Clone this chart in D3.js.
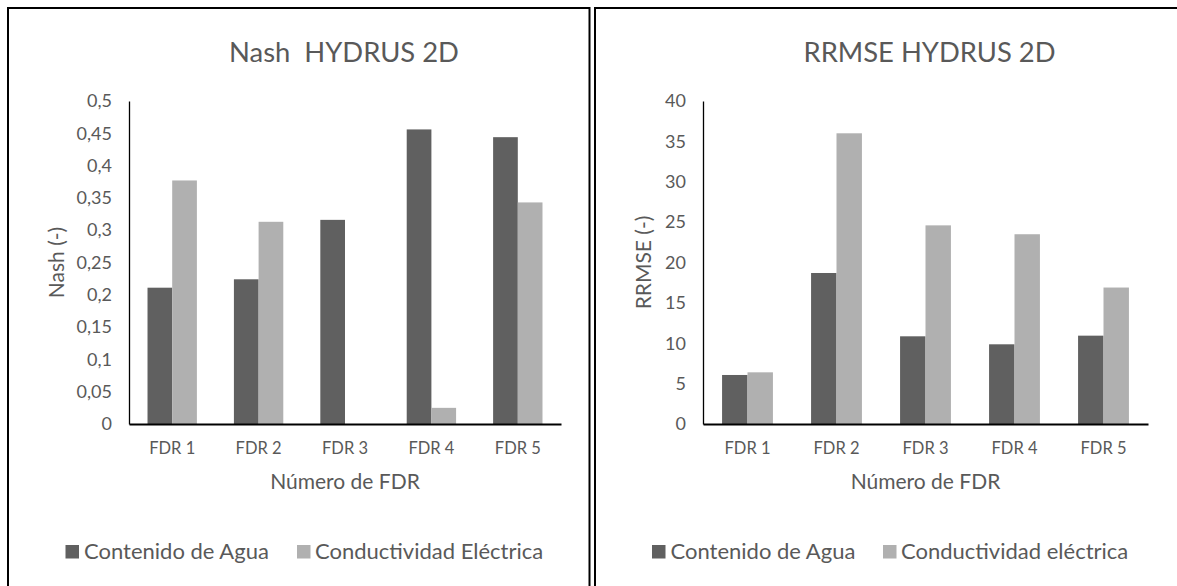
<!DOCTYPE html>
<html>
<head>
<meta charset="utf-8">
<script src="https://cdn.jsdelivr.net/npm/d3@7"></script>
<style>
  body { margin: 0; background: #fff; }
  svg { display: block; }
  text { font-family: Lato, "Open Sans", sans-serif; fill: #595959; }
</style>
</head>
<body>
<div id="chart"></div>
<script>
// categories and series values
const categories = ["FDR 1", "FDR 2", "FDR 3", "FDR 4", "FDR 5"];
const seriesNames = ["Contenido de Agua", "Conductividad"];

const nashAgua = [0.211, 0.224, 0.316, 0.456, 0.444];
const nashCond = [0.377, 0.313, 0.0, 0.025, 0.343];
const nashTicks = [0, 0.05, 0.1, 0.15, 0.2, 0.25, 0.3, 0.35, 0.4, 0.45, 0.5];

const rrmseAgua = [6.07, 18.7, 10.86, 9.87, 10.94];
const rrmseCond = [6.4, 36.0, 24.6, 23.5, 16.9];
const rrmseTicks = [0, 5, 10, 15, 20, 25, 30, 35, 40];

const colDark = "#606060";
const colLight = "#b0b0b0";

const W = 1177, H = 586;
const svg = d3.select("#chart").append("svg")
    .attr("width", W)
    .attr("height", H);

// panel frames
svg.append("rect")
    .attr("x", 8).attr("y", 8)
    .attr("width", 581.5).attr("height", H + 20)
    .attr("fill", "none").attr("stroke", "#000").attr("stroke-width", 2);
svg.append("rect")
    .attr("x", 595).attr("y", 8)
    .attr("width", W).attr("height", H + 20)
    .attr("fill", "none").attr("stroke", "#000").attr("stroke-width", 2);

function drawPanel(p) {
    const g = svg.append("g");
    const top = 101, bottom = 424;

    // x: one band per FDR, bars take 2/3.5 of each band (gap 150%)
    const x = d3.scaleBand()
        .domain(categories)
        .range([p.left, p.right])
        .paddingInner(1.5 / 3.5)
        .paddingOuter(0.75 / 3.5);
    const xs = d3.scaleBand()
        .domain(seriesNames)
        .range([0, x.bandwidth()]);
    const y = d3.scaleLinear()
        .domain([0, p.ticks[p.ticks.length - 1]])
        .range([bottom, top]);

    // bars
    const rows = categories.map((c, i) => ({cat: c, vals: [p.a[i], p.b[i]]}));
    const grp = g.selectAll("g.cat")
        .data(rows)
        .enter().append("g")
        .attr("transform", d => `translate(${x(d.cat)},0)`);
    grp.selectAll("rect")
        .data(d => d.vals.map((v, k) => ({s: seriesNames[k], v: v})))
        .enter().append("rect")
        .attr("x", d => xs(d.s))
        .attr("y", d => y(d.v))
        .attr("width", xs.bandwidth())
        .attr("height", d => bottom - y(d.v))
        .attr("fill", (d, k) => k === 0 ? colDark : colLight);

    // y axis
    const yAxis = d3.axisLeft(y)
        .tickValues(p.ticks)
        .tickSize(0)
        .tickPadding(17)
        .tickFormat(d => String(d).replace(".", ","));
    const ya = g.append("g")
        .attr("transform", `translate(${p.left},0)`)
        .call(yAxis);
    ya.select(".domain").attr("stroke", "#000").attr("stroke-width", 1.3);
    ya.selectAll("text").style("font-size", "18px").attr("fill", "#595959");

    // x axis
    const xa = g.append("g")
        .attr("transform", `translate(0,${bottom})`)
        .call(d3.axisBottom(x).tickSize(0).tickPadding(18));
    xa.select(".domain").attr("stroke", "#000").attr("stroke-width", 2);
    xa.selectAll("text").style("font-size", "16.5px").attr("fill", "#595959");

    // titles
    g.append("text")
        .attr("x", p.titleX).attr("y", 62)
        .attr("text-anchor", "middle")
        .style("font-size", "27.4px")
        .style("white-space", "pre")
        .text(p.title);
    g.append("text")
        .attr("x", p.xTitleX).attr("y", 489)
        .attr("text-anchor", "middle")
        .style("font-size", "21px")
        .text("Número de FDR");
    g.append("text")
        .attr("transform", `translate(${p.yTitleX},${(top + bottom) / 2}) rotate(-90)`)
        .attr("text-anchor", "middle")
        .style("font-size", "21px")
        .text(p.yTitle);

    // legend
    const lg = g.append("g");
    lg.append("rect").attr("x", p.leg[0]).attr("y", 545).attr("width", 13.5).attr("height", 13.5).attr("fill", colDark);
    lg.append("text").attr("x", p.leg[0] + 18.5).attr("y", 558.5).style("font-size", "22px").text("Contenido de Agua");
    lg.append("rect").attr("x", p.leg[1]).attr("y", 545).attr("width", 13.5).attr("height", 13.5).attr("fill", colLight);
    lg.append("text").attr("x", p.leg[1] + 18).attr("y", 558.5).style("font-size", "22px").text(p.condLabel);
}

drawPanel({
    left: 129, right: 561, a: nashAgua, b: nashCond, ticks: nashTicks,
    title: "Nash  HYDRUS 2D", titleX: 344, xTitleX: 345,
    yTitle: "Nash (-)", yTitleX: 64, leg: [65.5, 297], condLabel: "Conductividad Eléctrica"
});
drawPanel({
    left: 703, right: 1148, a: rrmseAgua, b: rrmseCond, ticks: rrmseTicks,
    title: "RRMSE HYDRUS 2D", titleX: 929.5, xTitleX: 925.5,
    yTitle: "RRMSE (-)", yTitleX: 651, leg: [652, 883], condLabel: "Conductividad eléctrica"
});
</script>
</body>
</html>
